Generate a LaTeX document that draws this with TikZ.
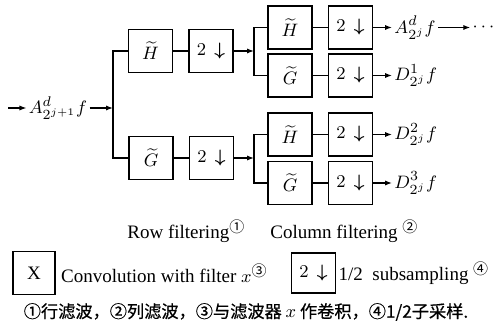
\documentclass[tikz,border=0pt]{standalone}
\usepackage{amsmath, amssymb}
\usepackage{fontspec}
\setmainfont{Liberation Serif}
\newfontfamily\cjk{Noto Sans CJK SC}
\newfontfamily\cjkbold[FakeBold=0.6]{Noto Sans CJK SC}
\usepackage{tikz}
\usetikzlibrary{arrows.meta}

\tikzset{
  filt/.style={draw, line width=0.75pt, minimum width=22pt, minimum height=21.5pt,
               inner sep=0pt, font=\fontsize{9.5}{11}\selectfont},
  sig/.style={inner sep=1pt, font=\fontsize{9.5}{11}\selectfont},
  flow/.style={line width=0.6pt, -{Latex[length=3.5pt, width=2.6pt]}},
  wire/.style={line width=0.6pt}
}
\newcommand{\dwn}{$2\,\boldsymbol{\downarrow}$}
\newcommand{\notemark}[1]{\raisebox{3pt}{\cjk\fontsize{7.5}{8}\selectfont #1}}

\begin{document}
\begin{tikzpicture}[x=0.5pt, y=-0.5pt, font=\fontsize{9.5}{11}\selectfont]
          \useasboundingbox (0,0) rectangle (496,324);

          % first stage: row filtering
          \node[sig] (a0) at (58,108) {$A^{d}_{2^{j+1}}f$};
          \coordinate (src) at (8,108);
          \coordinate (s0) at (113,108);
          \node[filt] (h1) at (150.5,51) {$\widetilde{H}$};
          \node[filt] (g1) at (151,158) {$\widetilde{G}$};
          \node[filt] (p1) at (211,51) {\dwn};
          \node[filt] (q1) at (211.5,158) {\dwn};
          \draw[flow] (src) -- (a0);
          \draw[flow] (a0) -- (s0);
          \draw[wire] (h1.west) -- (h1.west -| s0) |- (g1.west);
          \draw[wire] (h1) -- (p1);
          \draw[wire] (g1) -- (q1);

          % second stage: column filtering
          \coordinate (j1) at (254,51);
          \coordinate (j2) at (254,158);
          \node[filt] (h2) at (290,27.5) {$\widetilde{H}$};
          \node[filt] (g2) at (290,75.5) {$\widetilde{G}$};
          \node[filt] (h3) at (290,134.5) {$\widetilde{H}$};
          \node[filt] (g3) at (290,183) {$\widetilde{G}$};
          \node[filt] (p2) at (350.5,27.5) {\dwn};
          \node[filt] (q2) at (350.5,75.5) {\dwn};
          \node[filt] (p3) at (350.5,134.5) {\dwn};
          \node[filt] (q3) at (350.5,183) {\dwn};
          \draw[flow] (p1) -- (j1);
          \draw[flow] (q1) -- (j2);
          \draw[wire] (h2.west) -- (h2.west -| j1) |- (g2.west);
          \draw[wire] (h3.west) -- (h3.west -| j2) |- (g3.west);
          \foreach \f/\d in {h2/p2, g2/q2, h3/p3, g3/q3}
            \draw[wire] (\f) -- (\d);

          % outputs
          \node[sig, anchor=west] (o1) at (392,27.5) {$A^{d}_{2^{j}}f$};
          \node[sig, anchor=west] (o2) at (392,75.5) {$D^{1}_{2^{j}}f$};
          \node[sig, anchor=west] (o3) at (392,134.5) {$D^{2}_{2^{j}}f$};
          \node[sig, anchor=west] (o4) at (392,183) {$D^{3}_{2^{j}}f$};
          \node[sig] (more) at (485,27.5) {$\cdots$};
          \foreach \d/\o in {p2/o1, q2/o2, p3/o3, q3/o4}
            \draw[flow] (\d) -- (\o);
          \draw[flow] (o1) -- (more);

          % captions and legend
          \node[anchor=west, inner sep=0pt] (rowcap) at (127,231) {Row filtering\notemark{①}};
          \node[anchor=west, inner sep=0pt] (colcap) at (270,231) {Column filtering \notemark{②}};
          \node[filt, minimum width=21pt, minimum height=21.5pt] (kx) at (34,273) {X};
          \node[anchor=west, inner sep=2.5pt] (kxtext) at (kx.east) {Convolution with filter $x$\notemark{③}};
          \node[filt, minimum height=20pt] (kd) at (313.5,273) {\dwn};
          \node[anchor=west, inner sep=1pt] (kdtext) at (kd.east) {1/2\ \ subsampling \notemark{④}};
          \node[font=\fontsize{8.6}{10}\selectfont] (note) at (246,312)
            {\cjkbold ①行滤波，②列滤波，③与滤波器 $x$ 作卷积，④1/2子采样.};
        \end{tikzpicture}
\end{document}
